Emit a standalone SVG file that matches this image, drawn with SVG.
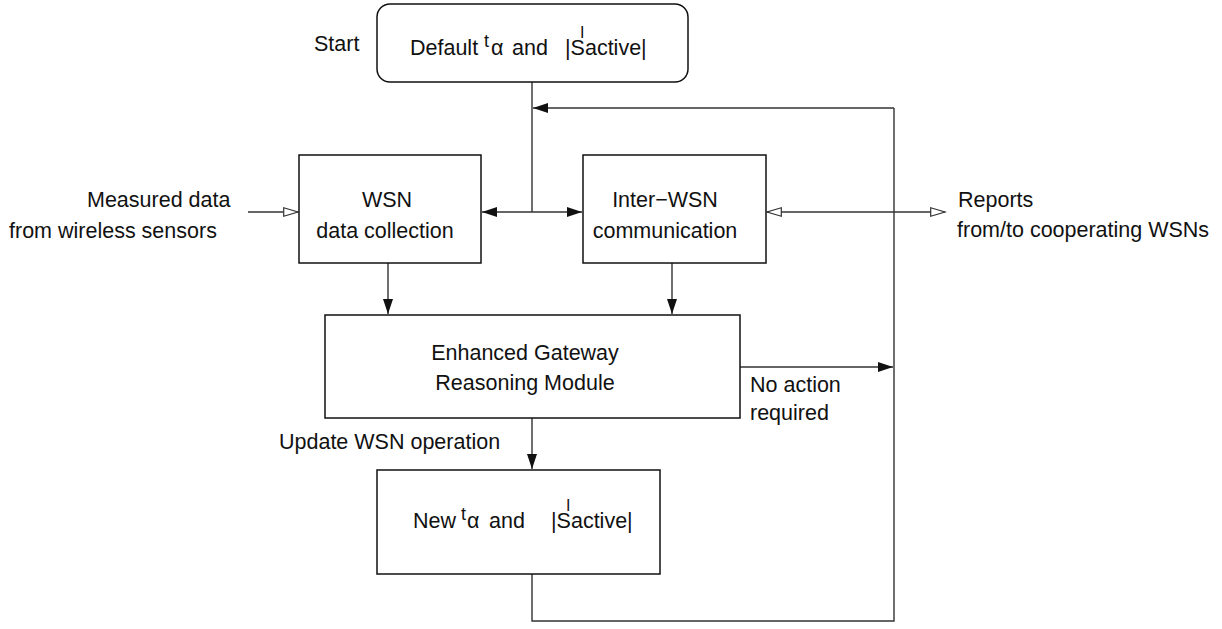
<svg xmlns="http://www.w3.org/2000/svg" width="1222" height="629" viewBox="0 0 1222 629">
<style>
text{font-family:"Liberation Sans",Arial,sans-serif;font-size:21.5px;fill:#111}
.box{fill:#fff;stroke:#111;stroke-width:1.5}
.ln{fill:none;stroke:#333;stroke-width:1.4}
.sm{font-size:18px}
.sup{font-size:16px}
.mid{text-anchor:middle}
</style>
<defs>
<marker id="fa" markerUnits="userSpaceOnUse" markerWidth="16" markerHeight="12" refX="15" refY="5" orient="auto-start-reverse"><path d="M0,0 L15,5 L0,10 z" fill="#111"/></marker>
<marker id="oa" markerUnits="userSpaceOnUse" markerWidth="18" markerHeight="12" refX="15" refY="5" orient="auto-start-reverse"><path d="M0.7,0.7 L15,5 L0.7,9.3 z" fill="#fff" stroke="#333" stroke-width="1.2"/></marker>
</defs>
<rect width="1222" height="629" fill="#fff"/>
<g id="connectors">
<path class="ln" d="M532,82 V212"/>
<path class="ln" d="M894,108 H533" marker-end="url(#fa)"/>
<path class="ln" d="M482,212 H582" marker-start="url(#fa)" marker-end="url(#fa)"/>
<path class="ln" d="M248,212 H298" marker-end="url(#oa)"/>
<path class="ln" d="M767,212 H945" marker-start="url(#oa)" marker-end="url(#oa)"/>
<path class="ln" d="M388,263 V314" marker-end="url(#fa)"/>
<path class="ln" d="M672,263 V314" marker-end="url(#fa)"/>
<path class="ln" d="M740,367 H893" marker-end="url(#fa)"/>
<path class="ln" d="M532,418 V469" marker-end="url(#fa)"/>
<path class="ln" d="M532,574 V621 H894 V108"/>
</g>
<g id="start">
<text x="314" y="51">Start</text>
</g>
<g id="default">
<rect class="box" x="377" y="4" width="311" height="78" rx="13"/>
<text x="410" y="55">Default</text>
<text class="sm" x="484" y="47">t</text>
<text x="491" y="55">α</text>
<text x="512" y="55">and</text>
<text x="565" y="55">|Sactive|</text>
<text class="sup" x="580" y="38">I</text>
</g>
<g id="measured">
<text x="87" y="207">Measured data</text>
<text x="9" y="238">from wireless sensors</text>
</g>
<g id="wsn">
<rect class="box" x="299" y="155" width="182" height="108"/>
<text class="mid" x="387" y="207">WSN</text>
<text class="mid" x="385" y="238">data collection</text>
</g>
<g id="inter">
<rect class="box" x="583" y="155" width="183" height="108"/>
<text class="mid" x="665" y="207">Inter−WSN</text>
<text class="mid" x="665" y="238">communication</text>
</g>
<g id="reports">
<text x="958" y="207">Reports</text>
<text x="957" y="237">from/to cooperating WSNs</text>
</g>
<g id="egrm">
<rect class="box" x="325" y="315" width="415" height="103"/>
<text class="mid" x="525" y="360">Enhanced Gateway</text>
<text class="mid" x="525" y="390">Reasoning Module</text>
</g>
<g id="noaction">
<text x="750" y="392">No action</text>
<text x="750" y="420">required</text>
</g>
<g id="update">
<text x="279" y="449">Update WSN operation</text>
</g>
<g id="new">
<rect class="box" x="377" y="470" width="283" height="104"/>
<text x="413" y="528">New</text>
<text class="sm" x="461" y="520">t</text>
<text x="467" y="528">α</text>
<text x="489" y="528">and</text>
<text x="551" y="528">|Sactive|</text>
<text class="sup" x="566" y="511">I</text>
</g>
</svg>
